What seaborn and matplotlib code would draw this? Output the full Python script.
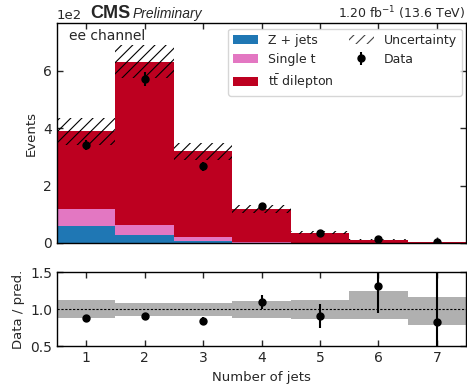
import numpy as np
import pandas as pd
import matplotlib
matplotlib.use("Agg")
import matplotlib.pyplot as plt
import seaborn as sns
from matplotlib.patches import Patch

# ---------------- data ----------------
njets = [1, 2, 3, 4, 5, 6, 7]
z_jets = [60, 28, 7, 1.0, 0.3, 0.1, 0.05]
single_t = [58, 35, 15, 3.0, 1.0, 0.3, 0.1]
ttbar = [272, 570, 298, 114, 35, 9.6, 3.0]
data = [341, 572, 268, 129, 33, 13.2, 2.6]
data_err = [18, 24, 16, 11, 5.8, 3.7, 2.6]
unc_up = [0.12, 0.09, 0.09, 0.115, 0.13, 0.24, 0.17]
unc_dn = [0.12, 0.09, 0.095, 0.115, 0.13, 0.13, 0.21]
processes = ["Z + jets", "Single t", r"$\mathrm{t\bar{t}}$ dilepton"]
colors = ["#1f77b4", "#e377c2", "#bd0020"]
bin_edges = [0.5, 1.5, 2.5, 3.5, 4.5, 5.5, 6.5, 7.5]

sns.set_style("ticks")
plt.rcParams["font.family"] = ["DejaVu Sans"]
plt.rcParams["hatch.linewidth"] = 0.8

df = pd.DataFrame({
    "njets": njets * 3,
    "events": z_jets + single_t + ttbar,
    "process": [p for p in processes for _ in njets],
})

fig = plt.figure(figsize=(4.67, 3.85), dpi=100)
ax = fig.add_axes([0.122, 0.369, 0.876, 0.571])
axr = fig.add_axes([0.122, 0.101, 0.876, 0.192])

sns.histplot(data=df, x="njets", weights="events", hue="process",
             hue_order=processes[::-1], multiple="stack", bins=bin_edges,
             palette=dict(zip(processes, colors)), alpha=1, linewidth=0,
             legend=False, ax=ax)

x = np.array(njets)
total = np.array(z_jets) + np.array(single_t) + np.array(ttbar)
up = np.array(unc_up)
dn = np.array(unc_dn)
d = np.array(data)
de = np.array(data_err)

ax.bar(x, total * (up + dn), bottom=total * (1 - dn), width=1.0, fill=False,
       hatch="///", linewidth=0, edgecolor="black")
ax.errorbar(x, d, yerr=de, fmt="o", color="black", ms=5, elinewidth=1.5,
            capsize=0)

ax.set_xlim(0.5, 7.5)
ax.set_ylim(0, 767)
ax.set_yticks([0, 200, 400, 600])
ax.set_xticks(njets)
ax.set_xticklabels([])
ax.set_xlabel("")
ax.set_ylabel("Events", fontsize=9.5)
ax.ticklabel_format(axis="y", style="sci", scilimits=(2, 2))
ax.yaxis.get_offset_text().set_fontsize(9.5)
ax.tick_params(direction="in", top=True, right=True, length=4, width=1,
               labelsize=10)

ax.text(0.03, 0.94, "ee channel", transform=ax.transAxes, fontsize=10,
        ha="left", va="center")
ax.text(0.081, 1.023, "CMS", transform=ax.transAxes, fontsize=13,
        fontweight="bold", family="Liberation Sans", va="baseline")
ax.text(0.186, 1.023, "Preliminary", transform=ax.transAxes, fontsize=10,
        style="italic", family="Liberation Sans", va="baseline")
ax.text(0.998, 1.023, r"1.20 fb$^{-1}$ (13.6 TeV)", transform=ax.transAxes,
        fontsize=9, ha="right", va="baseline")

handles = [Patch(facecolor=c, edgecolor="none") for c in colors]
handles.append(Patch(facecolor="none", edgecolor="#444444", hatch="///",
                     linewidth=0))
dh = ax.errorbar([], [], yerr=[], fmt="o", color="black", ms=5, elinewidth=1.5)
handles.append(dh)
labels = processes + ["Uncertainty", "Data"]
leg = ax.legend(handles, labels, ncol=2, loc="upper right",
                bbox_to_anchor=(0.99, 0.975), fontsize=9, frameon=True,
                borderaxespad=0, columnspacing=1.2, handletextpad=0.8)
leg.get_frame().set_edgecolor("#cccccc")

# ratio panel
axr.bar(x, up + dn, bottom=1 - dn, width=1.0, color="#b0b0b0", linewidth=0)
axr.axhline(1.0, ls="--", color="black", lw=0.8, dashes=(2, 1.5))
axr.errorbar(x, d / total, yerr=de / total, fmt="o", color="black", ms=5,
             elinewidth=1.5, capsize=0)
axr.set_xlim(0.5, 7.5)
axr.set_ylim(0.5, 1.5)
axr.set_yticks([0.5, 1.0, 1.5])
axr.set_xticks(njets)
axr.set_xlabel("Number of jets", fontsize=9.5)
axr.set_ylabel("Data / pred.", fontsize=9.5)
axr.tick_params(direction="in", top=True, right=True, length=4, width=1,
                labelsize=10)

for a in (ax, axr):
    for s in a.spines.values():
        s.set_visible(True)
        s.set_color("black")
        s.set_linewidth(1)

fig.savefig("out.png", dpi=100)
